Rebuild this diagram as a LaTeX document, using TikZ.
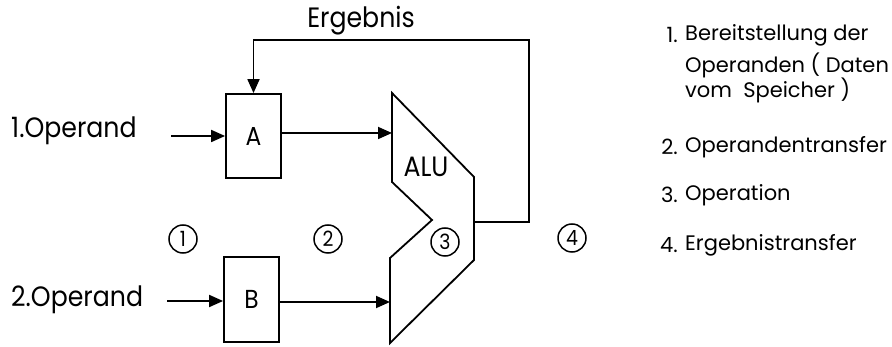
\documentclass[tikz,border=0pt]{standalone}
\usepackage{fontspec}
\setmainfont{Poppins}[FakeStretch=0.9]
\newfontfamily\lstfont{Poppins}
\usetikzlibrary{arrows.meta}
\tikzset{
  ln/.style={line width=1.8pt},
  arr/.style={ln,-{Triangle[length=14pt,width=12pt]}},
  reg/.style={draw,ln,minimum width=55pt,minimum height=84pt,inner sep=0pt,font=\fontsize{26}{26}\selectfont},
  big/.style={font=\fontsize{28}{28}\selectfont,inner sep=0pt},
  num/.style={draw,circle,line width=1.5pt,minimum size=28pt,inner sep=0pt,font=\fontsize{21}{21}\selectfont},
  lst/.style={font=\lstfont\fontsize{21}{23}\selectfont,inner sep=0pt,anchor=west},
}
\begin{document}
\begin{tikzpicture}[x=1pt,y=-1pt]
\useasboundingbox (0,0) rectangle (892,347);
% registers
\node[reg] (A) at (253.5,136) {A};
\node[reg,minimum height=85pt] (B) at (251.5,299.5) {B};
% ALU
\coordinate (aluTL) at (392,93);
\coordinate (aluTR) at (474,177);
\coordinate (aluBR) at (474,260);
\coordinate (aluBL) at (390,343);
\coordinate (aluLL) at (390,258);
\coordinate (notch) at (432,220);
\coordinate (aluLU) at (392,182);
\draw[ln,line join=miter] (aluTL) -- (aluTR) -- (aluBR) -- (aluBL) -- (aluLL) -- (notch) -- (aluLU) -- cycle;
\node[big] (alu) at (426,167) {ALU};
% inputs
\node[big,anchor=west] (op1) at (11,131) {1.Operand};
\node[big,anchor=west] (op2) at (11,300) {2.Operand};
\coordinate (in1) at (171,136);
\coordinate (in2) at (167,301);
\draw[arr] (in1) -- (A.west);
\draw[arr] (in2) -- (in2 -| B.west);
\coordinate (aluA) at (392,133);
\coordinate (aluB) at (390,302);
\draw[arr] (A.east |- aluA) -- (aluA);
\draw[arr] (B.east |- aluB) -- (aluB);
% feedback
\coordinate (aluout) at (474,222);
\coordinate (fbR) at (529,40);
\draw[arr,line join=miter] (aluout) -- (fbR |- aluout) -- (fbR) -- (fbR -| A.north) -- (A.north);
\node[big] (erg) at (361,21) {Ergebnis};
% step numbers
\node[num] (n1) at (183,239) {1};
\node[num] (n2) at (328,239) {2};
\node[num] (n3) at (445,242) {3};
\node[num] (n4) at (572,238) {4};
% legend
\node[lst,anchor=east] (l1n) at (678,35) {1.};
\node[lst] (l1) at (685,35) {Bereitstellung der};
\node[lst] (l1b) at (685,65) {Operanden ( Daten};
\node[lst] (l1c) at (685,90) {vom\ \ Speicher )};
\node[lst,anchor=east] (l2n) at (678,147) {2.};
\node[lst] (l2) at (685,147) {Operandentransfer};
\node[lst,anchor=east] (l3n) at (678,195) {3.};
\node[lst] (l3) at (685,195) {Operation};
\node[lst,anchor=east] (l4n) at (678,245) {4.};
\node[lst] (l4) at (685,245) {Ergebnistransfer};
\end{tikzpicture}
\end{document}
